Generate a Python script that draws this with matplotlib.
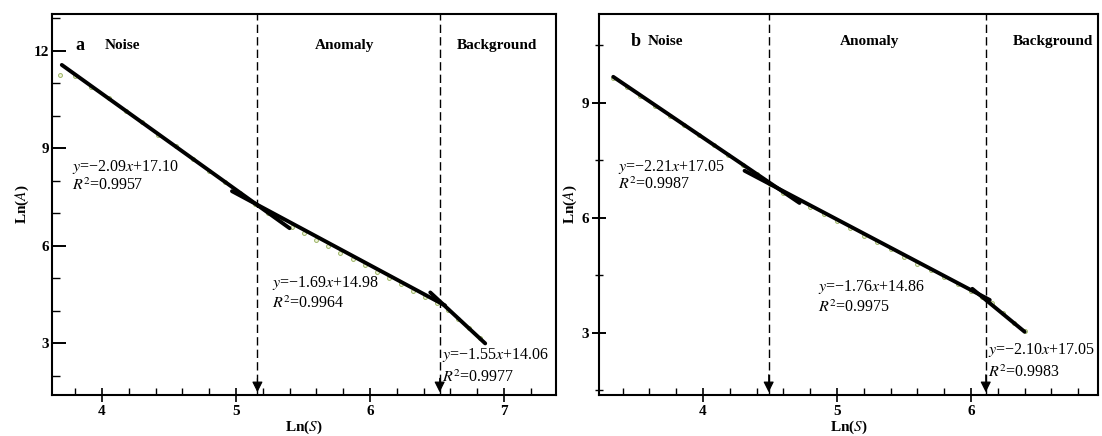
import numpy as np
import matplotlib
matplotlib.use("Agg")
import matplotlib.pyplot as plt
from matplotlib.ticker import MultipleLocator

plt.rcParams['font.family'] = ['Liberation Serif', 'DejaVu Serif']
plt.rcParams['mathtext.fontset'] = 'stix'

# ---- panel a data ----
x_a = [3.69, 3.80, 3.92, 4.05, 4.18, 4.30, 4.42, 4.55, 4.68, 4.80, 4.92, 5.03, 5.14, 5.24, 5.33, 5.42,
       5.51, 5.60, 5.69, 5.78, 5.87, 5.96, 6.05, 6.14, 6.23, 6.32, 6.41, 6.50, 6.58, 6.66, 6.74, 6.82]
y_a = [11.26, 11.22, 10.90, 10.55, 10.16, 9.80, 9.42, 9.06, 8.66, 8.30, 7.95, 7.62, 7.28, 7.02, 6.80, 6.58,
       6.38, 6.18, 5.98, 5.79, 5.59, 5.40, 5.20, 5.00, 4.81, 4.61, 4.42, 4.24, 4.03, 3.75, 3.45, 3.15]
fit_a = [([3.70, 5.40], [11.57, 6.54]),
         ([4.97, 6.56], [7.68, 4.16]),
         ([6.45, 6.86], [4.56, 2.99])]
breaks_a = [5.16, 6.52]
eq_a = ["$y$=−2.09$x$+17.10", "$y$=−1.69$x$+14.98", "$y$=−1.55$x$+14.06"]
r2_a = ["$R^2$=0.9957", "$R^2$=0.9964", "$R^2$=0.9977"]

# ---- panel b data ----
x_b = [3.33, 3.43, 3.53, 3.64, 3.75, 3.86, 3.97, 4.08, 4.19, 4.30, 4.40, 4.50, 4.60, 4.70, 4.80, 4.90,
       5.00, 5.10, 5.20, 5.30, 5.40, 5.50, 5.60, 5.70, 5.80, 5.90, 6.00, 6.08, 6.16, 6.24, 6.32, 6.40]
y_b = [9.64, 9.42, 9.18, 8.93, 8.67, 8.42, 8.16, 7.90, 7.64, 7.38, 7.14, 6.89, 6.66, 6.47, 6.28, 6.10,
       5.91, 5.73, 5.54, 5.36, 5.18, 4.99, 4.81, 4.63, 4.45, 4.27, 4.09, 3.94, 3.77, 3.51, 3.27, 3.05]
fit_b = [([3.33, 4.72], [9.68, 6.39]),
         ([4.31, 6.14], [7.23, 3.86]),
         ([6.01, 6.40], [4.15, 3.03])]
breaks_b = [4.49, 6.11]
eq_b = ["$y$=−2.21$x$+17.05", "$y$=−1.76$x$+14.86", "$y$=−2.10$x$+17.05"]
r2_b = ["$R^2$=0.9987", "$R^2$=0.9975", "$R^2$=0.9983"]

region_labels = ["Noise", "Anomaly", "Background"]


def draw_panel(ax, xs, ys, fits, breaks, eqs, r2s, xlim, ylim, yticks, yminor,
               letter, letter_x, label_x, label_y, eq_pos, ytick_dir):
    ax.plot(xs, ys, 'o', ms=2.8, mfc='#f0f4dc', mec='#9cb466', mew=0.7, zorder=2)
    for fx, fy in fits:
        ax.plot(fx, fy, color='black', lw=2.8, solid_capstyle='round', zorder=3)

    for b in breaks:
        ax.axvline(b, color='black', lw=1.0, ls=(0, (6, 3)), zorder=1)
        ax.annotate('', xy=(b, ylim[0]), xytext=(b, ylim[0] + 0.6),
                    arrowprops=dict(arrowstyle='-|>', color='black', lw=0.8, mutation_scale=16))

    ax.set_xlim(xlim)
    ax.set_ylim(ylim)
    ax.xaxis.set_major_locator(MultipleLocator(1))
    ax.xaxis.set_minor_locator(MultipleLocator(0.2))
    ax.set_yticks(yticks)
    ax.yaxis.set_minor_locator(MultipleLocator(yminor))
    ax.tick_params(axis='x', which='major', direction='inout', length=10, width=1.2, labelsize=11, pad=2)
    ax.tick_params(axis='x', which='minor', direction='in', length=5, width=1.0)
    ax.tick_params(axis='y', which='major', direction=ytick_dir, length=10, width=1.4, labelsize=11, pad=2)
    ax.tick_params(axis='y', which='minor', direction=ytick_dir, length=6, width=1.0)
    for lab in ax.get_xticklabels() + ax.get_yticklabels():
        lab.set_fontweight('bold')
    for s in ax.spines.values():
        s.set_linewidth(1.5)

    ax.set_xlabel("Ln($\\mathit{S}$)", fontsize=11, fontweight='bold', labelpad=1)
    ax.set_ylabel("Ln($\\mathit{A}$)", fontsize=11, fontweight='bold', labelpad=2)

    ax.text(letter_x, label_y, letter, fontsize=13, fontweight='bold', va='center', ha='left')
    for name, lx in zip(region_labels, label_x):
        ax.text(lx, label_y, name, fontsize=11, fontweight='bold', va='center', ha='center')

    for eq, r2, (ex, ey1, ey2) in zip(eqs, r2s, eq_pos):
        ax.text(ex, ey1, eq, fontsize=11.5, va='center', ha='left')
        ax.text(ex, ey2, r2, fontsize=11.5, va='center', ha='left')


fig = plt.figure(figsize=(11.02, 4.36), dpi=100)
ax_a = fig.add_axes([0.0472, 0.094, 0.4573, 0.874])
ax_b = fig.add_axes([0.5436, 0.094, 0.4528, 0.874])

draw_panel(ax_a, x_a, y_a, fit_a, breaks_a, eq_a, r2_a,
           xlim=(3.627, 7.388), ylim=(1.4, 13.14), yticks=[3, 6, 9, 12], yminor=1,
           letter='a', letter_x=3.80, label_x=[4.15, 5.81, 6.95], label_y=12.18,
           eq_pos=[(3.776, 8.42, 7.86), (5.27, 4.84, 4.22), (6.54, 2.62, 1.94)],
           ytick_dir='in')

draw_panel(ax_b, x_b, y_b, fit_b, breaks_b, eq_b, r2_b,
           xlim=(3.224, 6.948), ylim=(1.38, 11.32), yticks=[3, 6, 9], yminor=1.5,
           letter='b', letter_x=3.46, label_x=[3.716, 5.246, 6.61], label_y=10.6,
           eq_pos=[(3.366, 7.33, 6.86), (4.858, 4.20, 3.65), (6.127, 2.56, 1.96)],
           ytick_dir='inout')

fig.savefig("out.png", dpi=100)
